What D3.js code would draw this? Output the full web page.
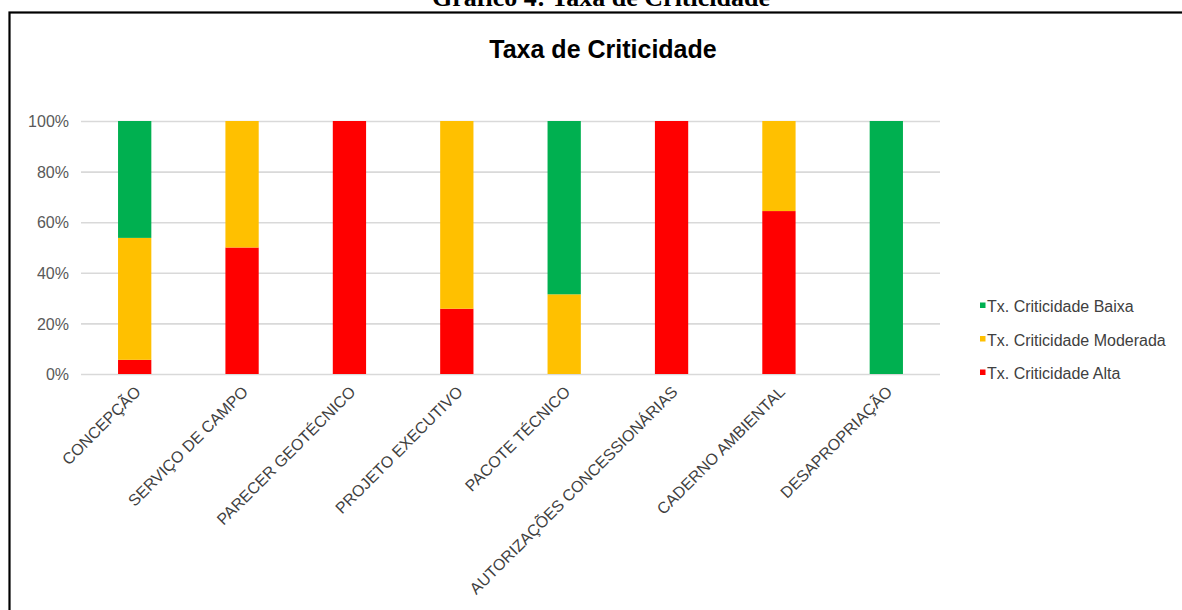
<!DOCTYPE html>
<html>
<head>
<meta charset="utf-8">
<script src="https://cdn.jsdelivr.net/npm/d3@7/dist/d3.min.js"></script>
<style>
  html, body { margin: 0; padding: 0; background: #fff; }
  svg { display: block; }
</style>
</head>
<body>
<svg id="chart" width="1182" height="610"></svg>
<script>
// ---- data ----
const categories = ["CONCEPÇÃO", "SERVIÇO DE CAMPO", "PARECER GEOTÉCNICO", "PROJETO EXECUTIVO",
  "PACOTE TÉCNICO", "AUTORIZAÇÕES CONCESSIONÁRIAS", "CADERNO AMBIENTAL", "DESAPROPRIAÇÃO"];
const alta     = [5.6, 50, 100, 25.8, 0, 100, 64.4, 0];
const moderada = [48.2, 50, 0, 74.2, 31.5, 0, 35.6, 0];
const baixa    = [46.2, 0, 0, 0, 68.5, 0, 0, 100];
const seriesNames = ["Tx. Criticidade Alta", "Tx. Criticidade Moderada", "Tx. Criticidade Baixa"];
const yTicks = [0, 20, 40, 60, 80, 100];
const chartTitle = "Taxa de Criticidade";
const captionText = "Gráfico 4: Taxa de Criticidade";

const colors = { "Tx. Criticidade Alta": "#FF0000", "Tx. Criticidade Moderada": "#FFC000", "Tx. Criticidade Baixa": "#00B050" };

const svg = d3.select("#chart");
const W = 1182, H = 610;
const plot = { left: 81, right: 940, top: 121, bottom: 374 };

// caption above frame
svg.append("text")
  .attr("x", 601).attr("y", 6)
  .attr("text-anchor", "middle")
  .attr("font-family", "'Liberation Serif', 'Times New Roman', serif")
  .attr("font-weight", "bold")
  .attr("font-size", 26)
  .attr("fill", "#000")
  .text(captionText);

// frame
svg.append("rect")
  .attr("x", 9.5).attr("y", 12.5)
  .attr("width", W + 20).attr("height", H + 20)
  .attr("fill", "#fff")
  .attr("stroke", "#000").attr("stroke-width", 2.2);

// title
svg.append("text")
  .attr("x", 603).attr("y", 58)
  .attr("text-anchor", "middle")
  .attr("font-family", "'Liberation Sans', Arial, sans-serif")
  .attr("font-weight", "bold")
  .attr("font-size", 25)
  .attr("fill", "#000")
  .text(chartTitle);

// scales
const x = d3.scaleBand()
  .domain(categories)
  .range([plot.left, plot.right])
  .paddingInner(0.69)
  .paddingOuter(0.345);

const y = d3.scaleLinear().domain([0, 100]).range([plot.bottom, plot.top]);

// gridlines
const yAxis = d3.axisLeft(y)
  .tickValues(yTicks)
  .tickSize(-(plot.right - plot.left))
  .tickFormat(d => d + "%")
  .tickPadding(12);

const gy = svg.append("g")
  .attr("transform", `translate(${plot.left},0)`)
  .call(yAxis);
gy.select(".domain").remove();
gy.selectAll(".tick line").attr("stroke", "#D9D9D9").attr("stroke-width", 1.6);
gy.selectAll(".tick text")
  .attr("font-family", "'Liberation Sans', Arial, sans-serif")
  .attr("font-size", 16)
  .attr("fill", "#595959")
  .attr("dy", "0.35em");

// stacked bars
const table = categories.map((c, i) => ({
  cat: c,
  "Tx. Criticidade Alta": alta[i],
  "Tx. Criticidade Moderada": moderada[i],
  "Tx. Criticidade Baixa": baixa[i]
}));
const stacked = d3.stack().keys(seriesNames)(table);

svg.append("g").selectAll("g")
  .data(stacked)
  .join("g")
  .attr("fill", d => colors[d.key])
  .selectAll("rect")
  .data(d => d.filter(p => p[1] - p[0] > 0))
  .join("rect")
  .attr("x", d => x(d.data.cat))
  .attr("width", x.bandwidth())
  .attr("y", d => y(d[1]))
  .attr("height", d => y(d[0]) - y(d[1]));

// x labels
const xAxis = d3.axisBottom(x).tickSize(0).tickPadding(0);
const gx = svg.append("g")
  .attr("transform", `translate(0,${plot.bottom})`)
  .call(xAxis);
gx.select(".domain").remove();
gx.selectAll(".tick text")
  .attr("font-family", "'Liberation Sans', Arial, sans-serif")
  .attr("font-size", 16)
  .attr("fill", "#404040")
  .attr("text-anchor", "end")
  .attr("dy", 0)
  .attr("y", 0)
  .attr("transform", "translate(7,19) rotate(-45)");

// legend
const legendOrder = ["Tx. Criticidade Baixa", "Tx. Criticidade Moderada", "Tx. Criticidade Alta"];
const lg = svg.append("g");
legendOrder.forEach((name, i) => {
  const by = 312 + i * 33.5;
  lg.append("rect")
    .attr("x", 980).attr("y", by - 9.5)
    .attr("width", 5.5).attr("height", 5.5)
    .attr("fill", colors[name]);
  lg.append("text")
    .attr("x", 987).attr("y", by)
    .attr("font-family", "'Liberation Sans', Arial, sans-serif")
    .attr("font-size", 16)
    .attr("fill", "#404040")
    .text(name);
});
</script>
</body>
</html>
